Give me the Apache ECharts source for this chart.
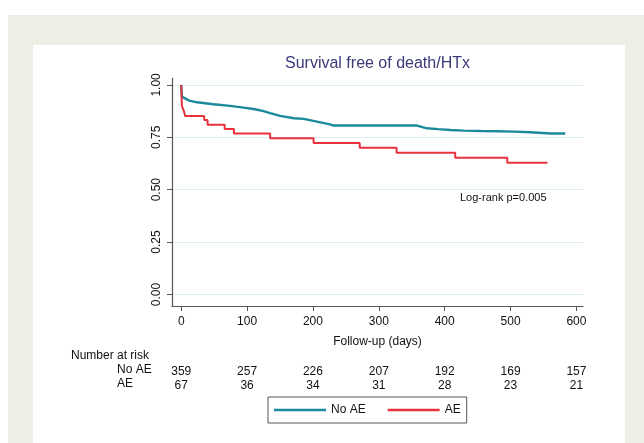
<!DOCTYPE html>
<html>
<head>
<meta charset="utf-8">
<script src="https://cdn.jsdelivr.net/npm/echarts@6/dist/echarts.min.js"></script>
<style>
  html, body { margin: 0; padding: 0; background: #ffffff; }
  #chart { width: 644px; height: 443px; }
</style>
</head>
<body>
<div id="chart"></div>
<script>
// ---- Data ----
const noAETimes = [0, 1, 2, 12, 24, 49, 74, 92, 110, 125, 135, 150, 171, 186, 206, 226, 231, 358, 373, 390, 409, 429, 455, 480, 505, 530, 561, 583];
const noAESurv  = [1.0, 0.944, 0.935, 0.925, 0.917, 0.908, 0.900, 0.893, 0.885, 0.875, 0.865, 0.852, 0.841, 0.838, 0.825, 0.812, 0.806, 0.806, 0.793, 0.789, 0.785, 0.782, 0.780, 0.779, 0.777, 0.774, 0.768, 0.768];

const aeTimes = [0, 1, 4, 6, 35, 40, 66, 80, 135, 201, 271, 327, 416, 495, 556];
const aeSurv  = [1.0, 0.900, 0.875, 0.852, 0.833, 0.810, 0.790, 0.768, 0.745, 0.723, 0.700, 0.676, 0.652, 0.628, 0.628];

const xTicks = [0, 100, 200, 300, 400, 500, 600];
const yTicks = [0, 0.25, 0.5, 0.75, 1.0];
const riskNoAE = [359, 257, 226, 207, 192, 169, 157];
const riskAE   = [67, 36, 34, 31, 28, 23, 21];

const seriesNames = ['No AE', 'AE'];
const titleText = 'Survival free of death/HTx';
const logRankText = 'Log-rank p=0.005';
const xAxisName = 'Follow-up (days)';

// ---- Chart ----
const FONT = "'Liberation Sans', Arial, Helvetica, sans-serif";
const TEAL = '#1b8b9b';
const RED = '#e8323c';

const zip = (a, b) => a.map((t, i) => [t, b[i]]);
const riskFmt = (arr) => (v) => { const i = xTicks.indexOf(Math.round(v)); return i >= 0 ? String(arr[i]) : ''; };

const chart = echarts.init(document.getElementById('chart'), null, { renderer: 'canvas' });

const hiddenAxisBase = {
  type: 'value', gridIndex: 0, position: 'bottom', min: -14, max: 610,
  axisLine: { show: false }, axisTick: { show: false }, splitLine: { show: false },
};

chart.setOption({
  backgroundColor: '#ffffff',
  animation: false,
  textStyle: { fontFamily: FONT },
  grid: { left: 172, top: 78, width: 411, height: 228, containLabel: false, outerBoundsMode: 'none' },
  xAxis: [
    {
      type: 'value', min: -14, max: 610, position: 'bottom',
      name: xAxisName, nameLocation: 'middle', nameGap: 30,
      nameTextStyle: { fontSize: 12, color: '#111', fontFamily: FONT },
      axisLine: { show: true, onZero: false, lineStyle: { color: '#555', width: 1.2 } },
      axisTick: { show: true, length: 5, customValues: xTicks, lineStyle: { color: '#555' } },
      axisLabel: { customValues: xTicks, margin: 10, fontSize: 12, color: '#111', fontFamily: FONT, showMinLabel: true, showMaxLabel: true },
      splitLine: { show: false }
    },
    Object.assign({}, hiddenAxisBase, {
      axisLabel: { customValues: xTicks, margin: 60, fontSize: 12, color: '#111', fontFamily: FONT, formatter: riskFmt(riskNoAE) }
    }),
    Object.assign({}, hiddenAxisBase, {
      axisLabel: { customValues: xTicks, margin: 74, fontSize: 12, color: '#111', fontFamily: FONT, formatter: riskFmt(riskAE) }
    })
  ],
  yAxis: {
    type: 'value', min: -0.055, max: 1.033,
    axisLine: { show: true, onZero: false, lineStyle: { color: '#555', width: 1.2 } },
    axisTick: { show: true, length: 5, customValues: yTicks, lineStyle: { color: '#555' } },
    axisLabel: { customValues: yTicks, rotate: 90, margin: 9, fontSize: 12, color: '#111', fontFamily: FONT,
                 formatter: (v) => v.toFixed(2) },
    splitLine: { show: true, lineStyle: { color: '#dcedf3', width: 1 } }
  },
  legend: {
    left: 268, top: 397, orient: 'horizontal', icon: 'rect',
    padding: [6, 6, 6, 6], itemGap: 22, itemWidth: 52, itemHeight: 2.5,
    borderColor: '#555', borderWidth: 1, borderRadius: 0,
    textStyle: { fontSize: 12, color: '#111', fontFamily: FONT, lineHeight: 14 },
    data: seriesNames
  },
  series: [
    {
      name: seriesNames[0], type: 'line', symbol: 'none',
      data: zip(noAETimes, noAESurv),
      lineStyle: { color: TEAL, width: 2.4 }, itemStyle: { color: TEAL }, z: 3
    },
    {
      name: seriesNames[1], type: 'line', step: 'end', symbol: 'none',
      data: zip(aeTimes, aeSurv),
      lineStyle: { color: RED, width: 2 }, itemStyle: { color: RED }, z: 4
    }
  ],
  graphic: [
    { type: 'rect', z: -100, silent: true, shape: { x: 8, y: 15, width: 636, height: 428 }, style: { fill: '#efeee4' } },
    { type: 'rect', z: -99, silent: true, shape: { x: 33, y: 45, width: 592, height: 398 }, style: { fill: '#ffffff' } },
    { type: 'text', left: 285, top: 56, style: { text: titleText, fill: '#3b3a78', font: '16px ' + FONT } },
    { type: 'text', left: 460, top: 192, style: { text: logRankText, fill: '#111', font: '11px ' + FONT } },
    { type: 'text', left: 71, top: 350, style: { text: 'Number at risk', fill: '#111', font: '12px ' + FONT } },
    { type: 'text', left: 117, top: 364, style: { text: seriesNames[0], fill: '#111', font: '12px ' + FONT } },
    { type: 'text', left: 117, top: 378, style: { text: seriesNames[1], fill: '#111', font: '12px ' + FONT } }
  ]
});
</script>
</body>
</html>
